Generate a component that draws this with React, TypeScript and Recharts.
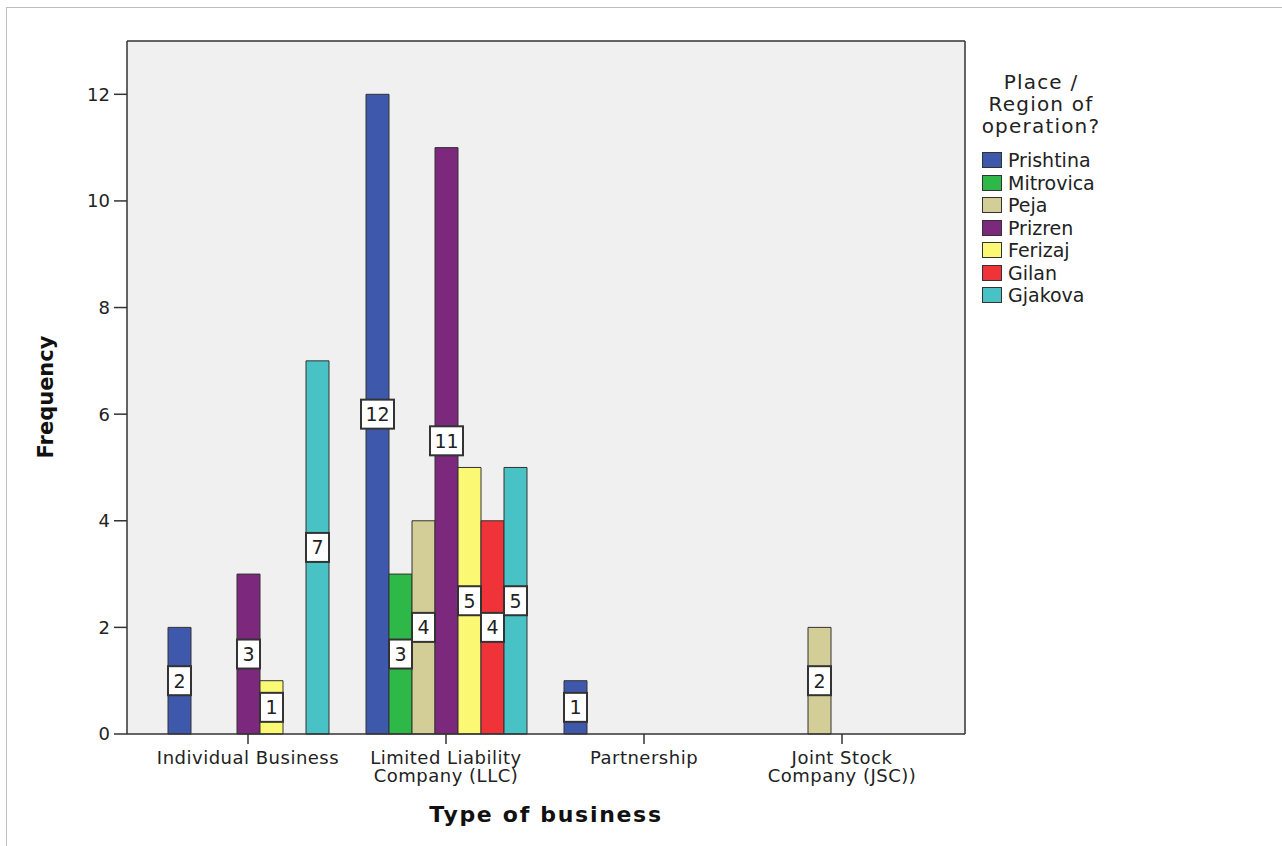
import React from "react";
import {
  Bar,
  BarChart,
  CartesianGrid,
  Label,
  LabelList,
  XAxis,
  YAxis,
} from "recharts";

const categories = [
  "Individual Business",
  "Limited Liability\nCompany (LLC)",
  "Partnership",
  "Joint Stock\nCompany (JSC))",
];

// frequency per region, in the order of the categories (null = no bar)
const prishtina = [2, 12, 1, null];
const mitrovica = [null, 3, null, null];
const peja = [null, 4, null, 2];
const prizren = [3, 11, null, null];
const ferizaj = [1, 5, null, null];
const gilan = [null, 4, null, null];
const gjakova = [7, 5, null, null];

const yTicks = [0, 2, 4, 6, 8, 10, 12];

const regions = [
  { key: "Prishtina", color: "#3e58ac", values: prishtina },
  { key: "Mitrovica", color: "#2eb848", values: mitrovica },
  { key: "Peja", color: "#d3ce97", values: peja },
  { key: "Prizren", color: "#7c287d", values: prizren },
  { key: "Ferizaj", color: "#fbf873", values: ferizaj },
  { key: "Gilan", color: "#ef3338", values: gilan },
  { key: "Gjakova", color: "#48c2c5", values: gjakova },
];

const data = categories.map((name, i) => {
  const row: Record<string, string | number | null> = { name };
  regions.forEach((r) => {
    row[r.key] = r.values[i];
  });
  return row;
});

const FONT = "'DejaVu Sans', Arial, sans-serif";
const frame = { stroke: "#333", strokeWidth: 1.5 };

function CategoryTick(props: any) {
  const { x, y, payload } = props;
  const lines = String(payload.value).split("\n");
  return (
    <text
      x={x}
      y={y}
      textAnchor="middle"
      fill="#222"
      fontSize={18}
      letterSpacing={0.5}
      fontFamily={FONT}
    >
      {lines.map((l, i) => (
        <tspan key={i} x={x} dy={i === 0 ? 17.5 : 18.5}>
          {l}
        </tspan>
      ))}
    </text>
  );
}

function BoxLabel(props: any) {
  const vb = props.viewBox ?? props;
  const x = vb.x ?? props.x;
  const y = vb.y ?? props.y;
  const width = vb.width ?? props.width;
  const height = vb.height ?? props.height;
  const value = props.value;
  if (!value) return null;
  const text = String(value);
  const w = text.length > 1 ? 33 : width;
  const h = 29;
  const cx = x + width / 2;
  const cy = y + height / 2;
  return (
    <g>
      <rect
        x={cx - w / 2}
        y={cy - h / 2}
        width={w}
        height={h}
        fill="#fff"
        stroke="#333"
        strokeWidth={2}
      />
      <text
        x={cx}
        y={cy + 7}
        textAnchor="middle"
        fill="#222"
        fontSize={19}
        fontFamily={FONT}
      >
        {text}
      </text>
    </g>
  );
}

export default function App() {
  return (
    <div
      style={{
        position: "absolute",
        left: 0,
        top: 0,
        width: 1282,
        height: 846,
        background: "#fff",
        overflow: "hidden",
        fontFamily: FONT,
      }}
    >
      <div
        style={{
          position: "absolute",
          left: 6,
          top: 7,
          width: 1400,
          height: 1000,
          borderTop: "1.5px solid #bdbdbd",
          borderLeft: "1.5px solid #bdbdbd",
        }}
      />
      <BarChart
        width={1282}
        height={846}
        data={data}
        margin={{ top: 40, right: 316, left: 67, bottom: 52 }}
        barGap={0}
        barSize={23}
        style={{ position: "absolute", left: 0, top: 0 }}
      >
        <CartesianGrid fill="#f0f0f0" horizontal={false} vertical={false} />
        <XAxis
          dataKey="name"
          height={60}
          padding={{ left: 22, right: 24 }}
          axisLine={frame}
          tickLine={frame}
          tickSize={10}
          tickMargin={2}
          tick={<CategoryTick />}
          interval={0}
        >
          <Label
            value="Type of business"
            position="bottom"
            offset={12}
            style={{
              fontSize: 22,
              fontWeight: "bold",
              fill: "#111",
              fontFamily: FONT,
              letterSpacing: 1.7,
            }}
          />
        </XAxis>
        <XAxis
          xAxisId="top"
          dataKey="name"
          orientation="top"
          height={1}
          tick={false}
          tickLine={false}
          axisLine={frame}
        />
        <YAxis
          width={60}
          domain={[0, 13]}
          ticks={yTicks}
          allowDecimals={false}
          axisLine={frame}
          tickLine={frame}
          tickSize={13}
          tickMargin={4}
          tick={{ fill: "#222", fontSize: 18, fontFamily: FONT }}
        >
          <Label
            content={() => (
              <text
                x={53}
                y={397}
                transform="rotate(-90 53 397)"
                textAnchor="middle"
                fill="#111"
                fontSize={21}
                fontWeight="bold"
                fontFamily={FONT}
              >
                Frequency
              </text>
            )}
          />
        </YAxis>
        <YAxis
          yAxisId="right"
          orientation="right"
          width={1}
          domain={[0, 13]}
          tick={false}
          tickLine={false}
          axisLine={frame}
        />
        {regions.map((r) => (
          <Bar
            key={r.key}
            dataKey={r.key}
            fill={r.color}
            stroke="#333"
            strokeWidth={1}
            isAnimationActive={false}
          >
            <LabelList dataKey={r.key} content={<BoxLabel />} />
          </Bar>
        ))}
      </BarChart>
      <div
        style={{
          position: "absolute",
          left: 975,
          top: 71,
          width: 132,
          color: "#222",
        }}
      >
        <div
          style={{
            textAlign: "center",
            fontSize: 20,
            letterSpacing: 1.2,
            lineHeight: "22px",
            marginBottom: 12,
          }}
        >
          Place /
          <br />
          Region of
          <br />
          operation?
        </div>
        {regions.map((r) => (
          <div
            key={r.key}
            style={{
              display: "flex",
              alignItems: "center",
              height: 22.5,
              fontSize: 19,
            }}
          >
            <span
              style={{
                display: "inline-block",
                width: 18,
                height: 14,
                marginLeft: 7,
                marginRight: 6,
                background: r.color,
                border: "1.5px solid #333",
              }}
            />
            {r.key}
          </div>
        ))}
      </div>
    </div>
  );
}
